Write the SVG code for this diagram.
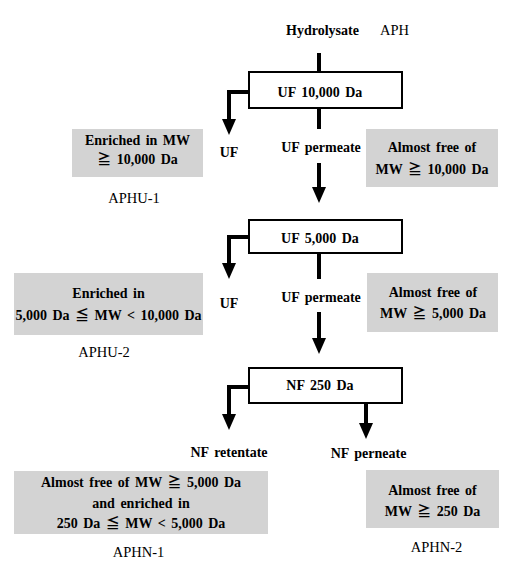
<svg xmlns="http://www.w3.org/2000/svg" width="515" height="570" viewBox="0 0 515 570">
<style>
text{font-family:"Liberation Serif","Noto Sans CJK KR",serif;font-size:14.5px;fill:#000;text-anchor:middle}
.b{font-weight:bold;font-size:14px;word-spacing:2px}
.proc{fill:#fff;stroke:#000;stroke-width:2}
.gray{fill:#d3d3d3;stroke:none}
.ln{fill:none;stroke:#000;stroke-width:4;stroke-linejoin:miter}
.ar{marker-end:url(#ah)}
</style>
<defs>
<marker id="ah" markerUnits="userSpaceOnUse" markerWidth="16" markerHeight="14" viewBox="0 0 16 14" refX="2" refY="7" orient="auto">
<path d="M0,0 L16,7 L0,14 Z" fill="#000"/>
</marker>
</defs>
<rect width="515" height="570" fill="#fff"/>
<g id="connectors">
<path class="ln" d="M319,53 V72"/>
<path class="ln ar" d="M249,92 H229 V121"/>
<path class="ln" d="M319,108 V129"/>
<path class="ln ar" d="M319,163 V189"/>
<path class="ln ar" d="M249,237 H229 V265"/>
<path class="ln" d="M319,253 V279"/>
<path class="ln ar" d="M319,312 V340"/>
<path class="ln ar" d="M249,387 H229 V416"/>
<path class="ln ar" d="M366,404 V425"/>
</g>
<g id="start">
<text class="b" x="322.5" y="35">Hydrolysate</text>
<text x="394.5" y="35">APH</text>
</g>
<g id="uf10000">
<rect class="proc" x="249" y="72" width="153" height="36"/>
<text class="b" x="320" y="97">UF 10,000 Da</text>
</g>
<g id="uf1-label"><text class="b" x="229" y="157">UF</text></g>
<g id="perm1-label"><text class="b" x="321" y="152">UF permeate</text></g>
<g id="aphu1">
<rect class="gray" x="72" y="129" width="131" height="48"/>
<text class="b" x="137.5" y="145">Enriched in MW</text>
<text class="b" x="137.5" y="164">≧ 10,000 Da</text>
<text x="134" y="203">APHU-1</text>
</g>
<g id="free10000">
<rect class="gray" x="366" y="129" width="132" height="58"/>
<text class="b" x="432" y="152">Almost free of</text>
<text class="b" x="432" y="174">MW ≧ 10,000 Da</text>
</g>
<g id="uf5000">
<rect class="proc" x="249" y="220" width="153" height="33"/>
<text class="b" x="320" y="243">UF 5,000 Da</text>
</g>
<g id="uf2-label"><text class="b" x="229" y="308">UF</text></g>
<g id="perm2-label"><text class="b" x="321" y="302">UF permeate</text></g>
<g id="aphu2">
<rect class="gray" x="14" y="273" width="189" height="62"/>
<text class="b" x="108.5" y="298">Enriched in</text>
<text class="b" x="108.5" y="320">5,000 Da ≦ MW &lt; 10,000 Da</text>
<text x="104" y="357">APHU-2</text>
</g>
<g id="free5000">
<rect class="gray" x="367" y="273" width="131" height="59"/>
<text class="b" x="433" y="297">Almost free of</text>
<text class="b" x="433" y="318">MW ≧ 5,000 Da</text>
</g>
<g id="nf250">
<rect class="proc" x="249" y="368" width="153" height="35"/>
<text class="b" x="320" y="390">NF 250 Da</text>
</g>
<g id="retentate-label"><text class="b" x="229" y="457">NF retentate</text></g>
<g id="permeate-label"><text class="b" x="368.5" y="458">NF perneate</text></g>
<g id="aphn1">
<rect class="gray" x="14" y="471" width="254" height="63"/>
<text class="b" x="141" y="487">Almost free of MW ≧ 5,000 Da</text>
<text class="b" x="141" y="508">and enriched in</text>
<text class="b" x="141" y="528">250 Da ≦ MW &lt; 5,000 Da</text>
<text x="138.5" y="557">APHN-1</text>
</g>
<g id="aphn2">
<rect class="gray" x="366" y="470" width="133" height="58"/>
<text class="b" x="432.5" y="495">Almost free of</text>
<text class="b" x="432.5" y="516">MW ≧ 250 Da</text>
<text x="436.5" y="552">APHN-2</text>
</g>
</svg>
